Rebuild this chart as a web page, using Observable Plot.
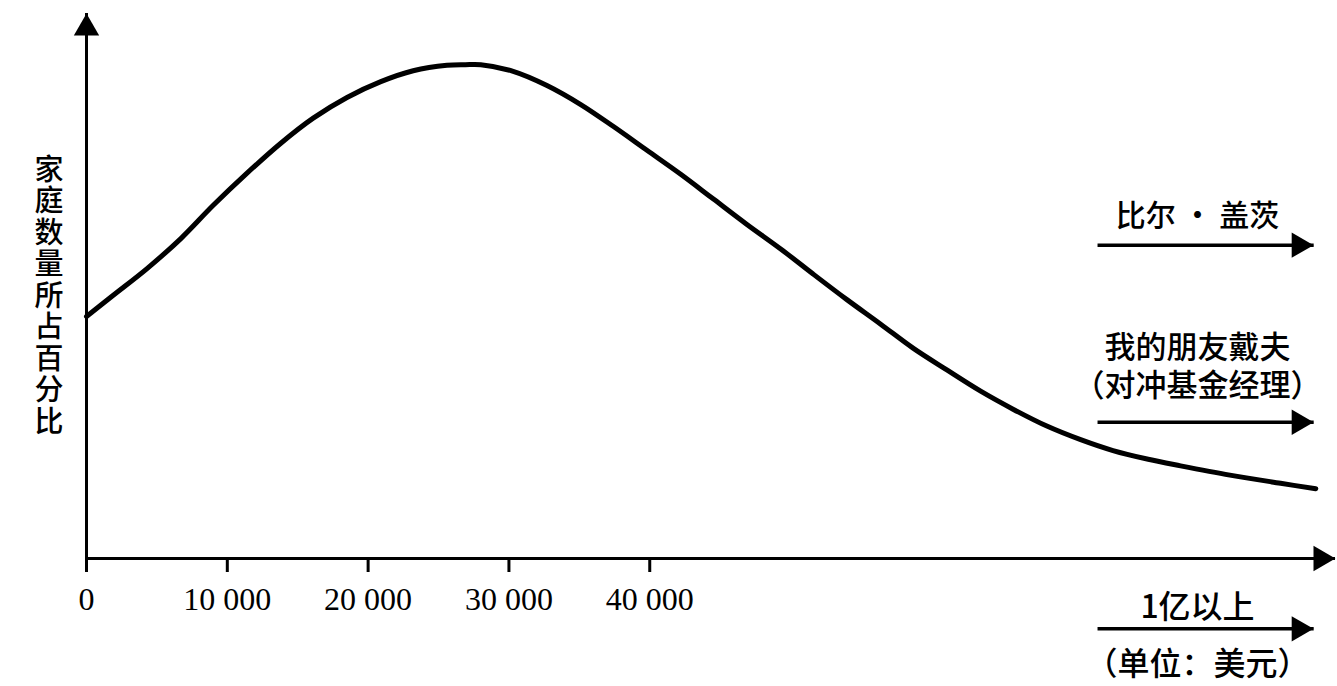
<!DOCTYPE html>
<html><head><meta charset="utf-8">
<script src="https://cdn.jsdelivr.net/npm/d3@7"></script>
<script src="https://cdn.jsdelivr.net/npm/@observablehq/plot@0.6"></script>
<style>body{margin:0;background:#fff}</style>
</head><body><div id="chart"></div>
<script>
// household income (USD) and share of households (relative %)
const incomes = [0, 1900, 4300, 6700, 9000, 11400, 13800, 16100, 18500, 20900, 23200, 25600, 26900, 28000, 30300, 32700, 35100, 37400, 39800, 42200, 44500, 46900, 49300, 51600, 54000, 56400, 58700, 61100, 63500, 65800, 68200, 70600, 72900, 75400, 77700, 81200, 84800, 87300];
const shares = [44.4, 48.3, 53.2, 58.7, 64.8, 70.7, 76.2, 80.8, 84.6, 87.5, 89.5, 90.5, 90.6, 90.6, 89.4, 86.8, 83.3, 79.3, 74.9, 70.5, 66.0, 61.3, 56.8, 52.2, 47.5, 43.0, 38.6, 34.6, 30.7, 27.4, 24.3, 21.8, 19.8, 18.2, 17.0, 15.3, 13.8, 12.8];
const tickValues = [0, 10000, 20000, 30000, 40000];
const yLabel = "家庭数量所占百分比";
const annoLabels = ["比尔 · 盖茨", "我的朋友戴夫", "（对冲基金经理）", "1亿以上", "（单位：美元）"];
const annoY = [62.8, 38.7, 31.7, -9.0, -19.5];
const annoX = 78900;
const arrowY = [57.5, 25.0, -12.9];
const arrowX1 = 71800, arrowX2 = 87150;
const xMax = 88700, yMax = 100;

const curveData = incomes.map((x, i) => ({x, y: shares[i]}));
const annos = annoLabels.map((t, i) => ({t, i, x: annoX, y: annoY[i]}));
const arrows = arrowY.map(y => ({x1: arrowX1, x2: arrowX2, y}));

const cjk = '"Noto Sans CJK SC", sans-serif';
const serif = '"Liberation Serif", "Times New Roman", serif';
const headR = 9.4, headOff = 14.7;

const plot = Plot.plot({
  width: 1337, height: 686,
  marginLeft: 86, marginRight: 2, marginTop: 13, marginBottom: 128,
  x: {domain: [0, xMax], axis: null, label: null},
  y: {domain: [0, yMax], axis: null, label: null},
  style: {background: "#fff", color: "#000", fontFamily: serif, overflow: "visible"},
  marks: [
    Plot.ruleY([0], {stroke: "#000", strokeWidth: 3}),
    Plot.ruleX([0], {stroke: "#000", strokeWidth: 3}),
    Plot.axisX({ticks: tickValues, label: null, tickSize: 14, tickPadding: 15, strokeWidth: 3,
      tickFormat: d => d3.format(",")(d).replace(/,/g, " "), fontSize: 32, fontFamily: serif}),
    Plot.dot([{x: xMax, y: 0}], {x: "x", y: "y", symbol: "triangle", r: headR, rotate: 90, fill: "#000", stroke: "none", dx: -headOff}),
    Plot.dot([{x: 0, y: yMax}], {x: "x", y: "y", symbol: "triangle", r: headR, fill: "#000", stroke: "none", dy: headOff}),
    Plot.line(curveData, {x: "x", y: "y", curve: "catmull-rom", stroke: "#000", strokeWidth: 5}),
    Plot.link(arrows, {x1: "x1", x2: "x2", y1: "y", y2: "y", stroke: "#000", strokeWidth: 3.5}),
    Plot.dot(arrows, {x: "x2", y: "y", symbol: "triangle", r: headR, rotate: 90, fill: "#000", stroke: "none", dx: -headOff}),
    Plot.text(annos.filter(d => d.i === 0), {x: "x", y: "y", text: "t", fontSize: 30, fontWeight: 500, fontFamily: cjk, fill: "#000"}),
    Plot.text(annos.filter(d => d.i === 1 || d.i === 2), {x: "x", y: "y", text: "t", fontSize: 31, fontWeight: 500, fontFamily: cjk, fill: "#000"}),
    Plot.text(annos.filter(d => d.i > 2), {x: "x", y: "y", text: "t", fontSize: 32, fontWeight: 500, fontFamily: cjk, fill: "#000"}),
    Plot.text([yLabel.split("").join("\n")], {text: d => d, frameAnchor: "left", dx: -52, dy: 9.5, fontSize: 29, fontWeight: 500, lineHeight: 1.086, fontFamily: cjk, fill: "#000"})
  ]
});
document.getElementById("chart").appendChild(plot);
</script>
</body></html>
